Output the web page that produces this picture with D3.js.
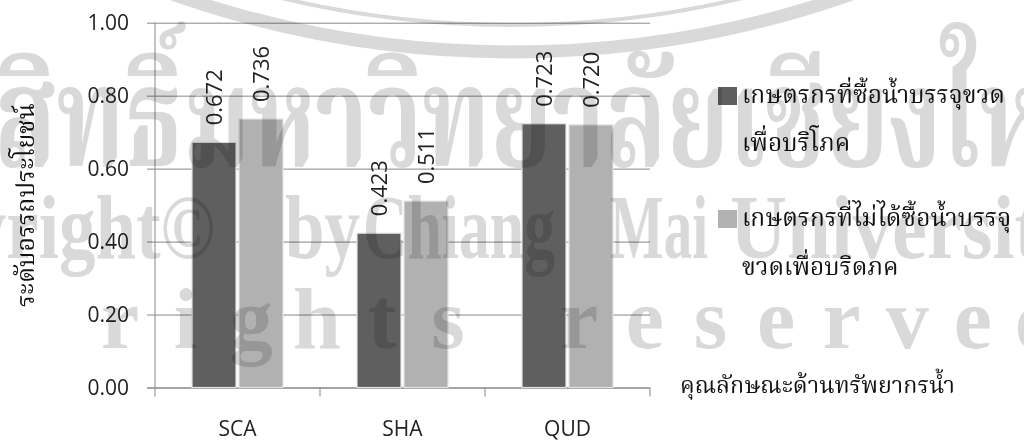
<!DOCTYPE html>
<html>
<head>
<meta charset="utf-8">
<script src="https://cdn.jsdelivr.net/npm/d3@7"></script>
<style>
  html, body { margin: 0; padding: 0; background: #ffffff; }
  svg { display: block; }
  .thai { font-family: 'Noto Serif Thai', 'Noto Sans Thai', 'Norasi', 'Kinnari', 'Loma', 'Garuda', serif; }
  .num { font-family: 'Open Sans', 'DejaVu Sans', sans-serif; }
</style>
</head>
<body>
<svg id="chart" width="1024" height="442"></svg>
<script>
// ---- data ----
const categories = ["SCA", "SHA", "QUD"];
const seriesKeys = ["buy", "noBuy"];
const buyValues = [0.672, 0.423, 0.723];
const noBuyValues = [0.736, 0.511, 0.720];
const yTickValues = [0, 0.2, 0.4, 0.6, 0.8, 1.0];
const legendLines = [
  ["เกษตรกรที่ซื้อน้ำบรรจุขวด", "เพื่อบริโภค"],
  ["เกษตรกรที่ไม่ได้ซื้อน้ำบรรจุ", "ขวดเพื่อบริดภค"]
];
const yTitle = "ระดับอรรถประโยชน์";
const xTitle = "คุณลักษณะด้านทรัพยากรน้ำ";
const seriesColors = ["#5f5f5f", "#b1b1b1"];

const rows = categories.map((c, i) => ({ cat: c, buy: buyValues[i], noBuy: noBuyValues[i] }));

const svg = d3.select("#chart");
const plot = { left: 155, right: 650, top: 22.7, bottom: 387.5 };
const gridColor = "#878787";

const x0 = d3.scaleBand().domain(categories).range([plot.left, plot.right]).padding(0);
const x1 = d3.scaleBand().domain(seriesKeys).range([37, 128]).paddingInner(3 / 47).paddingOuter(0);
const y = d3.scaleLinear().domain([0, 1]).range([plot.bottom, plot.top]);
const color = d3.scaleOrdinal().domain(seriesKeys).range(seriesColors);

// horizontal gridlines with left tick marks
const yAxis = d3.axisLeft(y).tickValues(yTickValues).tickFormat(d3.format(".2f"))
  .tickSize(-(plot.right - plot.left)).tickPadding(26);
const gy = svg.append("g").attr("transform", `translate(${plot.left},0)`).call(yAxis);
gy.select(".domain").remove();
gy.selectAll(".tick line").attr("x1", -8).attr("stroke", gridColor).attr("stroke-width", 1);
gy.selectAll(".tick text").attr("class", "num").attr("font-size", 21).attr("fill", "#222");

// vertical value axis line
svg.append("line").attr("x1", plot.left).attr("x2", plot.left)
  .attr("y1", y(1)).attr("y2", y(0)).attr("stroke", gridColor);

// category axis
const xAxis = d3.axisBottom(x0).tickSize(0).tickPadding(34);
const gx = svg.append("g").attr("transform", `translate(0,${plot.bottom})`).call(xAxis);
gx.select(".domain").attr("stroke", gridColor).attr("d", `M${plot.left - 8},0.5H${plot.right}`);
gx.selectAll(".tick text").attr("class", "num").attr("font-size", 21).attr("fill", "#222");
// boundary ticks between categories
const boundaries = categories.map(c => x0(c)).concat([x0(categories[categories.length - 1]) + x0.bandwidth()]);
gx.selectAll(".bound").data(boundaries).join("line").attr("class", "bound")
  .attr("x1", d => d).attr("x2", d => d).attr("y1", 0).attr("y2", 9).attr("stroke", gridColor);

// bars
const groups = svg.append("g").selectAll("g").data(rows).join("g")
  .attr("transform", d => `translate(${x0(d.cat)},0)`);
groups.selectAll("rect").data(d => seriesKeys.map(k => ({ key: k, value: d[k] }))).join("rect")
  .attr("x", d => x1(d.key)).attr("width", x1.bandwidth())
  .attr("y", d => y(d.value)).attr("height", d => y(0) - y(d.value))
  .attr("fill", d => color(d.key))
  .attr("stroke", "#e4e4e4").attr("stroke-width", 1.2);

// value labels, rotated
groups.selectAll("text.val").data(d => seriesKeys.map(k => ({ key: k, value: d[k] }))).join("text")
  .attr("class", "val num")
  .attr("transform", d => `translate(${x1(d.key) + x1.bandwidth() / 2},${y(d.value) - 17}) rotate(-90)`)
  .attr("dy", "0.36em")
  .attr("font-size", 22).attr("fill", "#222")
  .text(d => d3.format(".3f")(d.value));

// helper: scale font so the text spans a given width
function fitWidth(sel, target) {
  const fs = parseFloat(sel.attr("font-size"));
  const w = sel.node().getComputedTextLength();
  if (w > 0) sel.attr("font-size", fs * target / w);
  return parseFloat(sel.attr("font-size"));
}

// axis titles
const yt = svg.append("text").attr("class", "thai").attr("font-size", 24).attr("fill", "#111")
  .attr("text-anchor", "middle")
  .attr("transform", "translate(34,205) rotate(-90)").text(yTitle);
fitWidth(yt, 204);

const xt = svg.append("text").attr("class", "thai").attr("font-size", 24).attr("fill", "#111")
  .attr("x", 680).attr("y", 393).text(xTitle);
fitWidth(xt, 275);

// legend
const legend = svg.append("g");
const legendBase = [[103, 151], [226, 275]];
let legendFont = 24;
legendLines.forEach((lines, i) => {
  legend.append("rect").attr("x", 718).attr("y", legendBase[i][0] - 16).attr("width", 19).attr("height", 18)
    .attr("fill", seriesColors[i]);
  lines.forEach((t, j) => {
    const tx = legend.append("text").attr("class", "thai").attr("font-size", legendFont).attr("fill", "#111")
      .attr("x", 742).attr("y", legendBase[i][j]).text(t);
    if (i === 0 && j === 0) legendFont = fitWidth(tx, 263);
    else tx.attr("font-size", legendFont);
  });
});

// watermark overlay
const wmFill = "#d9d9d9";
const wm = svg.append("g").style("mix-blend-mode", "multiply").attr("fill", wmFill);
wm.append("circle").attr("cx", 512).attr("cy", -972).attr("r", 997)
  .attr("fill", "none").attr("stroke", wmFill).attr("stroke-width", 4);
wm.append("circle").attr("cx", 512).attr("cy", -972).attr("r", 1024)
  .attr("fill", "none").attr("stroke", wmFill).attr("stroke-width", 13);
wm.append("text").attr("class", "thai").attr("font-weight", "bold").attr("font-size", 140)
  .attr("x", -128).attr("y", 166).attr("textLength", 1240).attr("lengthAdjust", "spacingAndGlyphs")
  .text("ลิขสิทธิ์มหาวิทยาลัยเชียงใหม่");
const serif = "'Liberation Serif', 'DejaVu Serif', serif";
[["Copyright©", -160, 375], ["by", 285, 75], ["Chiang", 363, 192], ["Mai", 610, 98], ["University", 730, 350]]
  .forEach(([t, x, w]) => {
    wm.append("text").attr("font-family", serif).attr("font-weight", "bold").attr("font-size", 92)
      .attr("x", x).attr("y", 258).attr("textLength", w).attr("lengthAdjust", "spacingAndGlyphs").text(t);
  });
const rights = "All rights reserved".split("");
wm.selectAll("text.sp").data(rights).join("text").attr("class", "sp")
  .attr("font-family", serif).attr("font-weight", "bold").attr("font-size", 86).attr("text-anchor", "middle")
  .attr("x", (d, i) => 120 + (i - 4) * 65.6).attr("y", 348).text(d => d);
</script>
</body>
</html>
